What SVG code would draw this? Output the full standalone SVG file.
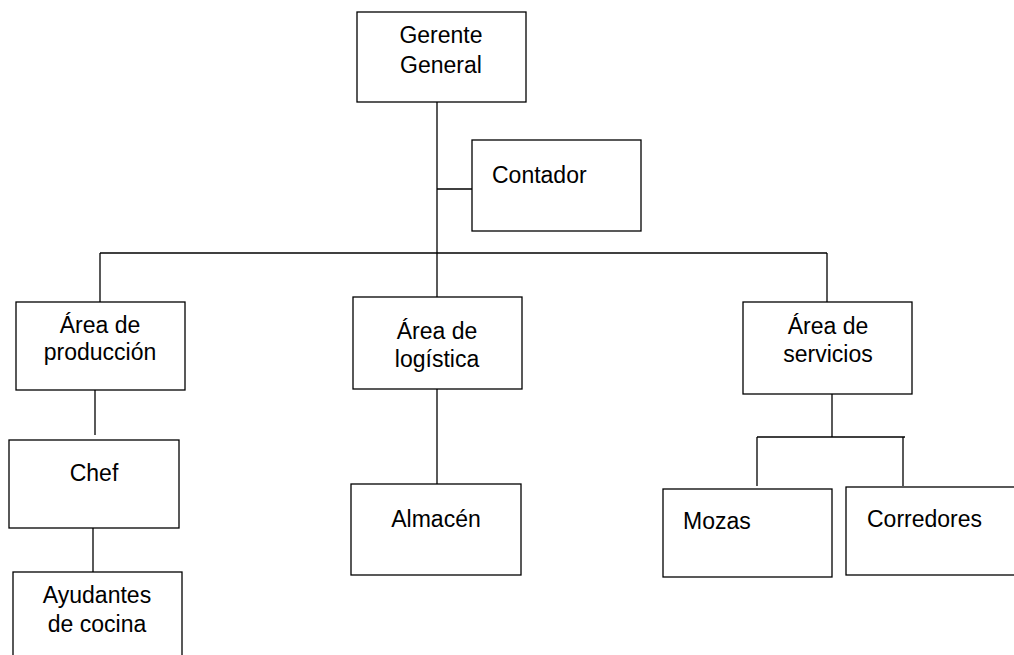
<svg xmlns="http://www.w3.org/2000/svg" width="1014" height="655" viewBox="0 0 1014 655">
<style>
.box{fill:#fff;stroke:#000;stroke-width:1.3}
.t{font-family:"Liberation Sans",Arial,sans-serif;font-size:23px;fill:#000;text-anchor:middle}
.s{text-anchor:start}
.c{stroke:#000;stroke-width:1.3;fill:none}
</style>
<rect width="1014" height="655" fill="#fff"/>
<g id="connectors">
<path class="c" d="M437 102V253"/>
<path class="c" d="M437 189H472"/>
<path class="c" d="M100 253H827"/>
<path class="c" d="M100 253V302"/>
<path class="c" d="M437 253V297"/>
<path class="c" d="M827 253V302"/>
<path class="c" d="M95 390V435"/>
<path class="c" d="M93 526V572"/>
<path class="c" d="M437 389V484"/>
<path class="c" d="M832 391V437"/>
<path class="c" d="M757 437H905"/>
<path class="c" d="M757 437V486"/>
<path class="c" d="M903 437V486"/>
</g>
<g id="gerente">
<rect class="box" x="357" y="12" width="169" height="90"/>
<text class="t" x="441" y="43">Gerente</text>
<text class="t" x="441" y="73">General</text>
</g>
<g id="contador">
<rect class="box" x="472" y="140" width="169" height="91"/>
<text class="t s" x="492" y="183">Contador</text>
</g>
<g id="produccion">
<rect class="box" x="16" y="302" width="169" height="88"/>
<text class="t" x="100" y="333">Área de</text>
<text class="t" x="100" y="360">producción</text>
</g>
<g id="logistica">
<rect class="box" x="353" y="297" width="169" height="92"/>
<text class="t" x="437" y="339">Área de</text>
<text class="t" x="437" y="367">logística</text>
</g>
<g id="servicios">
<rect class="box" x="743" y="302" width="169" height="92"/>
<text class="t" x="828" y="334">Área de</text>
<text class="t" x="828" y="362">servicios</text>
</g>
<g id="chef">
<rect class="box" x="9" y="440" width="170" height="88"/>
<text class="t" x="94" y="481">Chef</text>
</g>
<g id="ayudantes">
<rect class="box" x="13" y="572" width="169" height="90"/>
<text class="t" x="97" y="603">Ayudantes</text>
<text class="t" x="97" y="632">de cocina</text>
</g>
<g id="almacen">
<rect class="box" x="351" y="484" width="170" height="91"/>
<text class="t" x="436" y="527">Almacén</text>
</g>
<g id="mozas">
<rect class="box" x="663" y="489" width="169" height="88"/>
<text class="t s" x="683" y="529">Mozas</text>
</g>
<g id="corredores">
<rect class="box" x="846" y="487" width="175" height="88"/>
<text class="t s" x="867" y="527">Corredores</text>
</g>
</svg>
